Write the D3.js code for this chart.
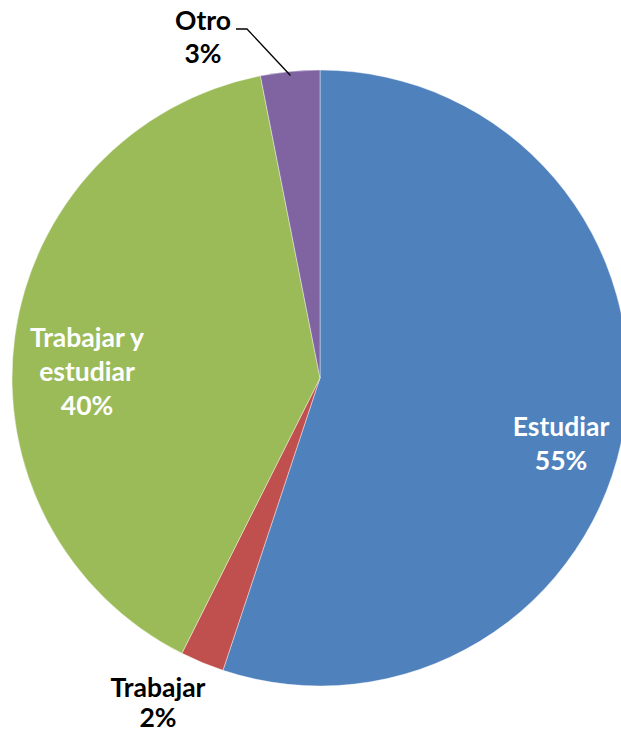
<!DOCTYPE html>
<html><head><meta charset="utf-8">
<script src="https://cdn.jsdelivr.net/npm/d3@7"></script>
<style>html,body{margin:0;padding:0;background:#fff;overflow:hidden}</style>
</head><body>
<svg id="chart" width="621" height="733"></svg>
<script>
const categories = ["Estudiar", "Trabajar", "Trabajar y estudiar", "Otro"];
const values = [55.1, 2.3, 39.5, 3.1];
const colors = ["#4F81BD", "#C0504D", "#9BBB59", "#8064A2"];

const svg = d3.select("#chart");
const cx = 320, cy = 378, r = 308;
const g = svg.append("g").attr("transform", `translate(${cx},${cy})`);

const pie = d3.pie().sort(null).value(d => d.v);
const data = categories.map((c, i) => ({c, v: values[i], col: colors[i]}));
const arcs = pie(data);
const arc = d3.arc().innerRadius(0).outerRadius(r);

g.selectAll("path").data(arcs).enter().append("path")
  .attr("d", arc).attr("fill", d => d.data.col)
  .attr("stroke", "#ffffff").attr("stroke-opacity", 0.5).attr("stroke-width", 0.8);

const total = d3.sum(values);
const pct = v => Math.round(v / total * 100) + "%";

const font = "Lato, 'Open Sans', sans-serif";
function label(lines, x, y0, lh, fill) {
  const t = svg.append("text").attr("text-anchor", "middle")
    .attr("font-family", font).attr("font-weight", "bold")
    .attr("font-size", 26.5).attr("fill", fill);
  lines.forEach((l, i) => t.append("tspan").attr("x", x).attr("y", y0 + i * lh).text(l));
}
// Estudiar (inside)
label([categories[0], pct(values[0])], 561, 436, 34, "#fff");
// Trabajar y estudiar (inside)
label(["Trabajar y", "estudiar", pct(values[2])], 87, 347, 34, "#fff");
// Trabajar (outside)
label([categories[1], pct(values[1])], 158, 697, 30, "#000");
// Otro (outside)
label([categories[3], pct(values[3])], 203, 30, 33, "#000");

// leader line for Otro
const oa = arcs[3];
const mid = (oa.startAngle + oa.endAngle) / 2;
const px = cx + Math.sin(mid) * (r - 4), py = cy - Math.cos(mid) * (r - 4);
svg.append("path")
  .attr("d", `M236,29 L247,29 L${px},${py}`)
  .attr("fill", "none").attr("stroke", "#000").attr("stroke-width", 1.3);
</script>
</body></html>
